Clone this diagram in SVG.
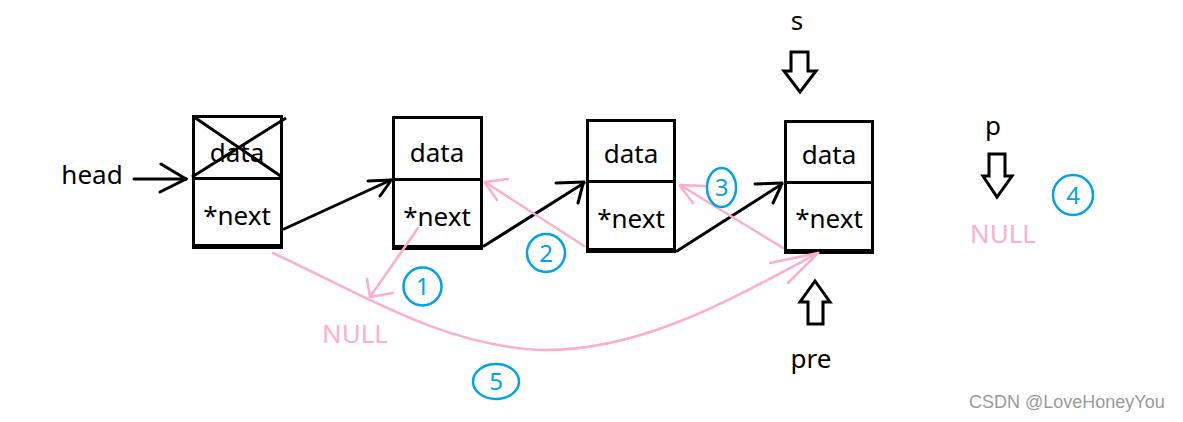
<svg xmlns="http://www.w3.org/2000/svg" width="1183" height="422" viewBox="0 0 1183 422">
<defs>
<style>
.box{fill:#fff;stroke:#000;stroke-width:3}
.bot{stroke:#000;stroke-width:5}
.div{stroke:#000;stroke-width:3}
.t{font-family:"Noto Sans","Open Sans",sans-serif;font-size:26px;fill:#000;text-anchor:middle}
.blk{stroke:#000;stroke-width:3;fill:none;stroke-linecap:round}
.pk{stroke:#ffaec9;stroke-width:2.5;fill:none;stroke-linecap:round}
.null{font-family:"Noto Sans","Open Sans",sans-serif;font-size:26px;fill:#ffaec9;text-anchor:middle}
.circ{fill:none;stroke:#00a2e8;stroke-width:2.5}
.num{font-family:"Noto Sans","Open Sans",sans-serif;font-size:24px;fill:#00a2e8;text-anchor:middle}
.hol{fill:#fff;stroke:#000;stroke-width:3;stroke-linejoin:miter}
</style>
</defs>
<rect width="1183" height="422" fill="#fff"/>

<g id="head-label">
<text class="t" x="92" y="184">head</text>
</g>

<g id="node1">
<rect class="box" x="193.5" y="116.5" width="88" height="131"/>
<line class="div" x1="192" y1="178.5" x2="283" y2="178.5"/>
<line class="bot" x1="192" y1="246.5" x2="283" y2="246.5"/>
<text class="t" x="237" y="162">data</text>
<text class="t" x="237" y="225">*next</text>
<line class="div" x1="194" y1="117" x2="282" y2="177"/>
<line class="div" x1="192" y1="177" x2="286" y2="118"/>
</g>

<g id="node2">
<rect class="box" x="393.5" y="117.5" width="88" height="131"/>
<line class="div" x1="392" y1="179.5" x2="483" y2="179.5"/>
<line class="bot" x1="392" y1="247.5" x2="483" y2="247.5"/>
<text class="t" x="437" y="162">data</text>
<text class="t" x="437" y="226">*next</text>
</g>

<g id="node3">
<rect class="box" x="587.5" y="120.5" width="87" height="131"/>
<line class="div" x1="586" y1="181.5" x2="676" y2="181.5"/>
<line class="bot" x1="586" y1="250.5" x2="676" y2="250.5"/>
<text class="t" x="631" y="163">data</text>
<text class="t" x="631" y="228">*next</text>
</g>

<g id="node4">
<rect class="box" x="785.5" y="121.5" width="87" height="131"/>
<line class="div" x1="784" y1="182.5" x2="874" y2="182.5"/>
<line class="bot" x1="784" y1="251.5" x2="874" y2="251.5"/>
<text class="t" x="829" y="164">data</text>
<text class="t" x="829" y="228">*next</text>
</g>

<g id="pointer-s">
<text class="t" x="797" y="30">s</text>
<polygon class="hol" points="791,52 808,52 808,71 816,71 800,92 784,71 791,71"/>
</g>

<g id="pointer-p">
<text class="t" x="993" y="135">p</text>
<polygon class="hol" points="989,154 1005,154 1005,176 1012,176 997,197 983,176 989,176"/>
</g>

<g id="pointer-pre">
<polygon class="hol" points="808,324 823,324 823,302 830,302 815,281 800,302 808,302"/>
<text class="t" x="811" y="368">pre</text>
</g>

<g id="nulls">
<text class="null" x="355" y="343">NULL</text>
<text class="null" x="1003" y="243">NULL</text>
</g>

<g id="connectors">
<line class="blk" x1="134" y1="179" x2="186" y2="179"/>
<line class="blk" x1="161" y1="164" x2="186" y2="179"/>
<line class="blk" x1="160" y1="192" x2="186" y2="179"/>

<line class="blk" x1="284" y1="229" x2="391" y2="180"/>
<line class="blk" x1="368" y1="181" x2="391" y2="180"/>
<line class="blk" x1="380" y1="196" x2="390" y2="182"/>

<line class="blk" x1="484" y1="246" x2="584" y2="183"/>
<line class="blk" x1="556" y1="183" x2="584" y2="182"/>
<line class="blk" x1="578" y1="203" x2="583" y2="184"/>

<line class="blk" x1="677" y1="251" x2="782" y2="184"/>
<line class="blk" x1="755" y1="184" x2="782" y2="183"/>
<line class="blk" x1="773" y1="203" x2="781" y2="186"/>

<line class="pk" x1="418" y1="228" x2="370" y2="297"/>
<line class="pk" x1="367" y1="279" x2="370" y2="297"/>
<line class="pk" x1="393" y1="293" x2="370" y2="297"/>

<line class="pk" x1="584" y1="246" x2="485" y2="182"/>
<line class="pk" x1="508" y1="179" x2="485" y2="182"/>
<line class="pk" x1="497" y1="200" x2="485" y2="183"/>

<line class="pk" x1="783" y1="248" x2="680" y2="185"/>
<line class="pk" x1="705" y1="186" x2="680" y2="185"/>
<line class="pk" x1="693" y1="203" x2="680" y2="186"/>

<path class="pk" d="M273,253 C360,293 440,345 540,350 C640,352 730,300 818,253"/>
<line class="pk" x1="770" y1="263" x2="818" y2="253"/>
<line class="pk" x1="788" y1="283" x2="818" y2="253"/>
</g>

<g id="steps">
<ellipse class="circ" cx="422.5" cy="286.5" rx="19" ry="19"/>
<text class="num" x="422.5" y="295">1</text>
<ellipse class="circ" cx="546" cy="253" rx="19" ry="19"/>
<text class="num" x="546" y="261.5">2</text>
<ellipse class="circ" cx="721.5" cy="187.5" rx="14.5" ry="19.5"/>
<text class="num" x="721.5" y="196">3</text>
<ellipse class="circ" cx="1073" cy="195" rx="20" ry="20"/>
<text class="num" x="1073" y="203.5">4</text>
<ellipse class="circ" cx="496" cy="381.5" rx="23" ry="17.5"/>
<text class="num" x="496" y="390">5</text>
</g>

<g id="watermark">
<text x="969" y="408" font-family="Liberation Sans, Arial, sans-serif" font-size="18" fill="#999">CSDN @LoveHoneyYou</text>
</g>
</svg>
